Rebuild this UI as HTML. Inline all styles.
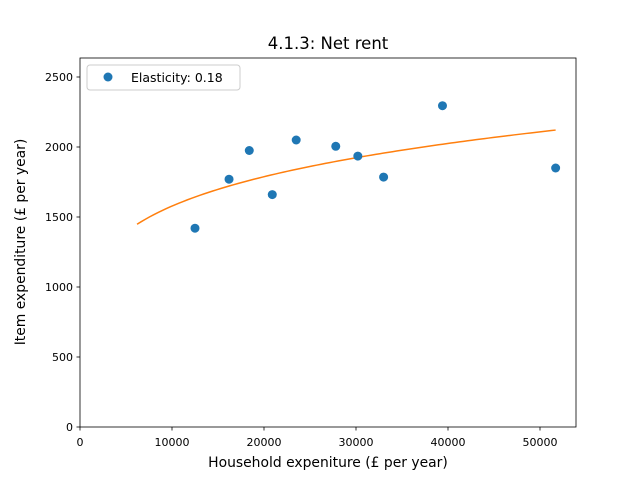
<!DOCTYPE html>
<html><head><meta charset="utf-8"><style>
body{margin:0;background:#fff;font-family:"Liberation Sans","DejaVu Sans",sans-serif}
svg text{font-family:"DejaVu Sans","Liberation Sans",sans-serif;fill:#000}
</style></head><body>
<svg id="chart" width="640" height="480" xmlns="http://www.w3.org/2000/svg">
<rect width="640" height="480" fill="#fff"/>
<text x="328" y="49" font-size="16.5" text-anchor="middle">4.1.3: Net rent</text>
<g id="ticks"></g>
<g id="marks"></g>
<rect x="80" y="58" width="496" height="369" fill="none" stroke="#000" stroke-width="0.8"/>
<text x="328" y="467" font-size="13.9" text-anchor="middle">Household expeniture (£ per year)</text>
<text transform="translate(25,242) rotate(-90)" font-size="13.9" text-anchor="middle">Item expenditure (£ per year)</text>
<g>
<rect x="87" y="65" width="153" height="25" rx="3" fill="#fff" stroke="#ccc"/>
<circle cx="108" cy="77" r="4.5" fill="#1f77b4"/>
<text x="131" y="82" font-size="12.5">Elasticity: 0.18</text>
</g>
</svg>
<script>
const xs=[12500,16200,18400,20900,23500,27800,30200,33000,39400,51700];
const ys=[1420,1770,1975,1660,2050,2005,1935,1785,2295,1850];
const xTicks=[0,10000,20000,30000,40000,50000];
const yTicks=[0,500,1000,1500,2000,2500];
const elasticity=0.18;
const fitEnd=[6200,51700];
const fitEndY=2121;
const NS="http://www.w3.org/2000/svg";
const X=v=>80+v*496/53913, Y=v=>427-v*0.14;
const tg=document.getElementById('ticks'), mg=document.getElementById('marks');
function mk(t,a,p){const e=document.createElementNS(NS,t);for(const k in a)e.setAttribute(k,a[k]);p.appendChild(e);return e;}
xTicks.forEach(v=>{const g=mk('g',{},tg);


mk('line',{x1:X(v),x2:X(v),y1:427,y2:430.5,stroke:'#000','stroke-width':0.8},g);
const t=mk('text',{x:X(v),y:446,'font-size':11,'text-anchor':'middle'},g);t.textContent=v;});
yTicks.forEach(v=>{const g=mk('g',{},tg);


mk('line',{x1:76.5,x2:80,y1:Y(v),y2:Y(v),stroke:'#000','stroke-width':0.8},g);
const t=mk('text',{x:73,y:Y(v)+4,'font-size':11,'text-anchor':'end'},g);t.textContent=v;});
const A=fitEndY/Math.pow(fitEnd[1],elasticity);
let d='';for(let i=0;i<=100;i++){const x=fitEnd[0]+(fitEnd[1]-fitEnd[0])*i/100;d+=(i?'L':'M')+X(x).toFixed(2)+','+Y(A*Math.pow(x,elasticity)).toFixed(2);}
const p=mk('path',{d:d,fill:'none',stroke:'#ff7f0e','stroke-width':1.5},mg);


xs.forEach((x,i)=>{const c=mk('circle',{cx:X(x),cy:Y(ys[i]),r:4.5,fill:'#1f77b4'},mg);

});
</script>
</body></html>
